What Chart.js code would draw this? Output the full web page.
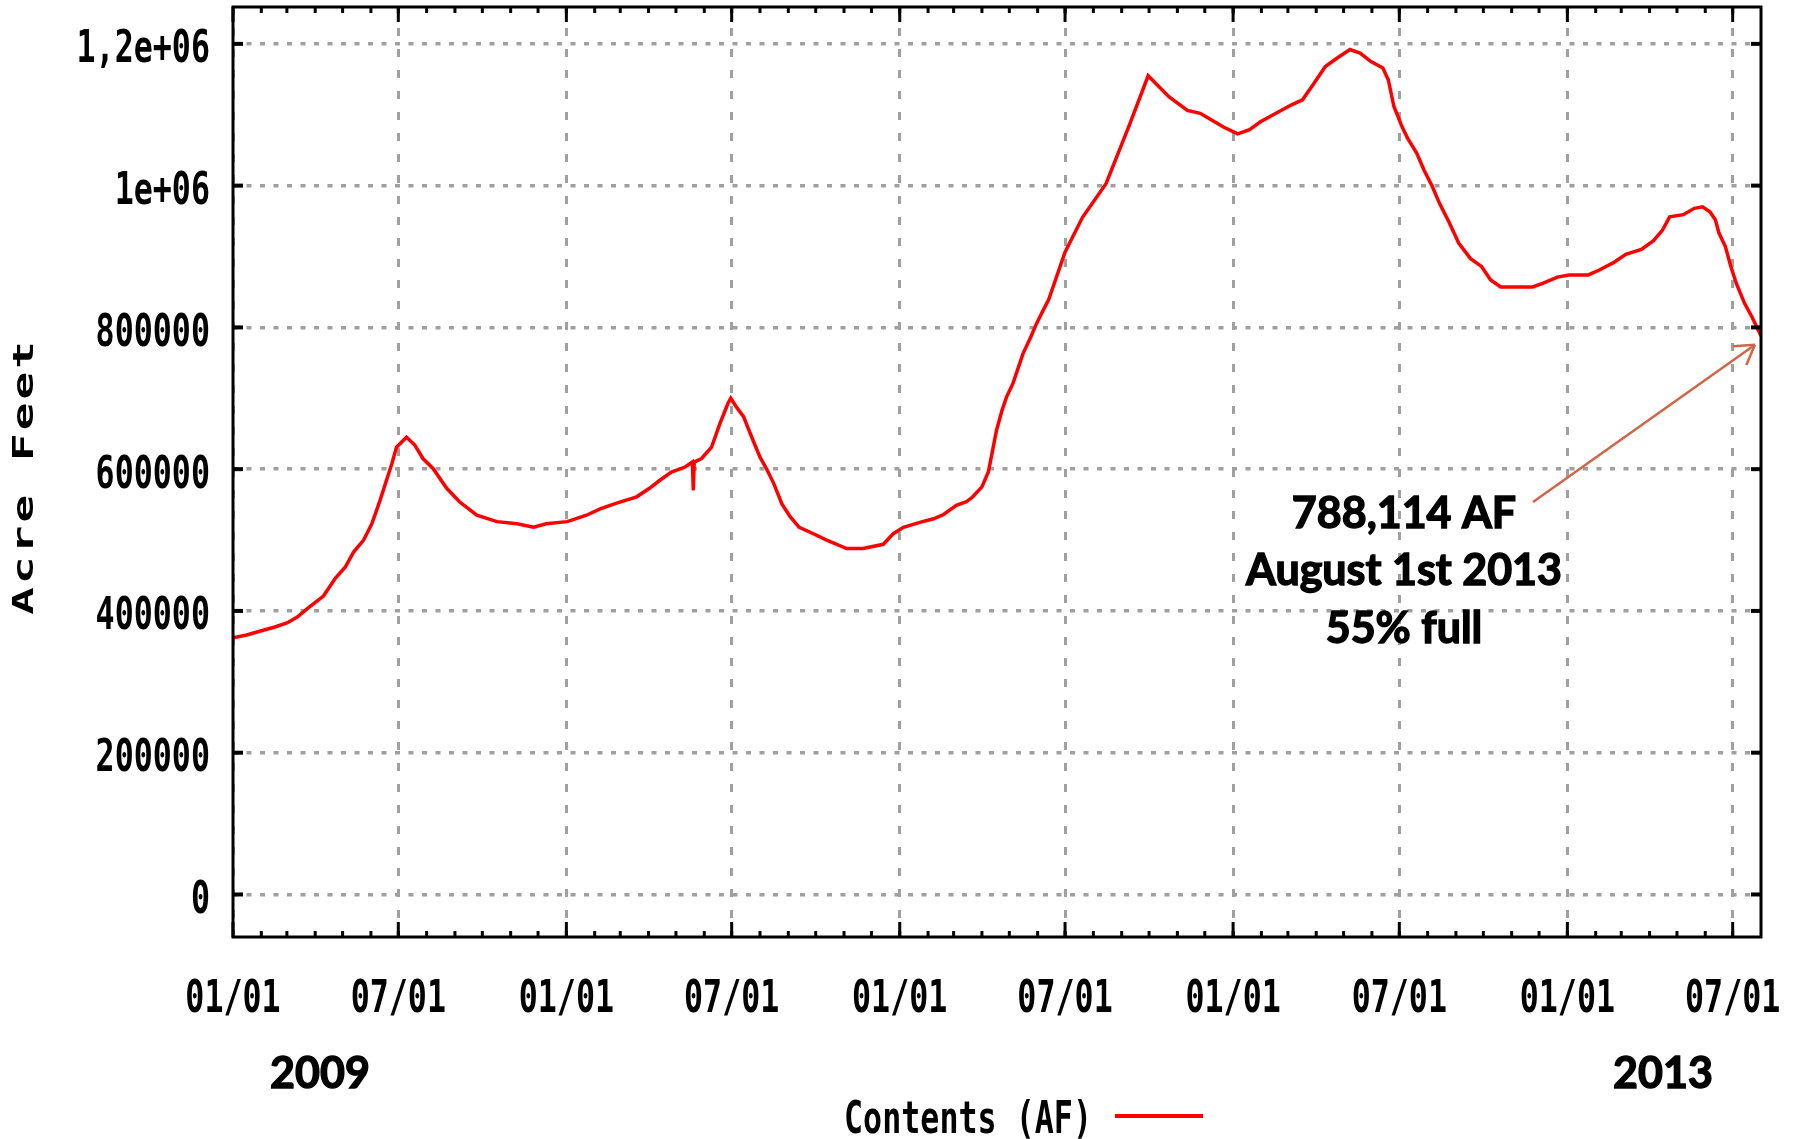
<!DOCTYPE html>
<html>
<head>
<meta charset="utf-8">
<script src="https://cdn.jsdelivr.net/npm/chart.js@4.4.1/dist/chart.umd.min.js"></script>
<style>
  html, body { margin: 0; padding: 0; background: #fff; }
</style>
</head>
<body>
<canvas id="storageChart" width="1797" height="1139"></canvas>
<script>
// Reservoir contents in acre feet
const dates = [
    '2009-01-01', '2009-01-16', '2009-02-01', '2009-02-15', '2009-03-01', '2009-03-12', '2009-03-23', '2009-03-30',
    '2009-04-10', '2009-04-23', '2009-05-04', '2009-05-13', '2009-05-24', '2009-06-02', '2009-06-11', '2009-06-18',
    '2009-06-24', '2009-06-29', '2009-07-10', '2009-07-19', '2009-07-28', '2009-08-08', '2009-08-23', '2009-09-06',
    '2009-09-25', '2009-10-17', '2009-11-08', '2009-11-26', '2009-12-10', '2010-01-02', '2010-01-23', '2010-02-07',
    '2010-02-25', '2010-03-19', '2010-04-02', '2010-04-13', '2010-04-26', '2010-05-11', '2010-05-19', '2010-05-20',
    '2010-05-21', '2010-05-29', '2010-06-09', '2010-06-18', '2010-06-27', '2010-06-30', '2010-07-06', '2010-07-14',
    '2010-07-23', '2010-08-01', '2010-08-08', '2010-08-16', '2010-08-25', '2010-09-03', '2010-09-13', '2010-09-25',
    '2010-10-13', '2010-11-04', '2010-11-22', '2010-12-14', '2010-12-25', '2011-01-05', '2011-01-23', '2011-02-07',
    '2011-02-18', '2011-03-04', '2011-03-15', '2011-03-22', '2011-04-01', '2011-04-08', '2011-04-12', '2011-04-17',
    '2011-04-23', '2011-04-28', '2011-05-05', '2011-05-11', '2011-05-16', '2011-05-24', '2011-05-31', '2011-06-07',
    '2011-06-13', '2011-07-01', '2011-07-20', '2011-08-15', '2011-09-09', '2011-09-30', '2011-10-23', '2011-11-12',
    '2011-11-26', '2011-12-08', '2011-12-21', '2012-01-06', '2012-01-19', '2012-01-31', '2012-02-17', '2012-03-05',
    '2012-03-17', '2012-03-30', '2012-04-11', '2012-04-24', '2012-05-08', '2012-05-19', '2012-05-31', '2012-06-13',
    '2012-06-19', '2012-06-25', '2012-07-04', '2012-07-10', '2012-07-20', '2012-07-28', '2012-08-06', '2012-08-14',
    '2012-08-25', '2012-09-04', '2012-09-17', '2012-09-29', '2012-10-09', '2012-10-20', '2012-11-24', '2012-12-05',
    '2012-12-21', '2013-01-03', '2013-01-24', '2013-02-05', '2013-02-20', '2013-03-06', '2013-03-23', '2013-04-05',
    '2013-04-15', '2013-04-23', '2013-05-08', '2013-05-20', '2013-05-29', '2013-06-06', '2013-06-12', '2013-06-16',
    '2013-06-23', '2013-06-29', '2013-07-05', '2013-07-14', '2013-07-22', '2013-08-01'
];
const contents = [
    362000, 366000, 372000, 377000, 383000, 391000, 403000, 410000,
    421000, 446000, 462000, 483000, 500000, 523000, 556000, 584000,
    608000, 631000, 645000, 634000, 615000, 601000, 573000, 554000,
    535000, 526000, 523000, 518000, 523000, 526000, 535000, 544000,
    552000, 561000, 573000, 584000, 596000, 603000, 610000, 570000,
    610000, 615000, 631000, 664000, 693000, 700000, 688000, 674000,
    645000, 617000, 601000, 580000, 551000, 533000, 518000, 511000,
    500000, 488000, 488000, 494000, 509000, 518000, 525000, 530000,
    536000, 549000, 554000, 561000, 575000, 596000, 622000, 655000,
    683000, 702000, 721000, 744000, 763000, 785000, 806000, 824000,
    839000, 906000, 955000, 1003000, 1084000, 1155000, 1125000, 1106000,
    1102000, 1093000, 1083000, 1073000, 1079000, 1090000, 1102000, 1114000,
    1121000, 1145000, 1168000, 1180000, 1192000, 1187000, 1175000, 1166000,
    1149000, 1112000, 1083000, 1067000, 1046000, 1022000, 999000, 975000,
    947000, 919000, 897000, 886000, 867000, 857000, 857000, 862000,
    871000, 874000, 874000, 881000, 891000, 903000, 910000, 922000,
    937000, 956000, 959000, 968000, 970000, 963000, 952000, 933000,
    914000, 886000, 862000, 834000, 815000, 788114
];

const xTickDates = ['2009-01-01', '2009-07-01', '2010-01-01', '2010-07-01', '2011-01-01',
    '2011-07-01', '2012-01-01', '2012-07-01', '2013-01-01', '2013-07-01'];
const xTickLabels = ['01/01', '07/01', '01/01', '07/01', '01/01', '07/01', '01/01', '07/01', '01/01', '07/01'];
const yTickValues = [0, 200000, 400000, 600000, 800000, 1000000, 1200000];
const yTickLabels = ['0', '200000', '400000', '600000', '800000', '1e+06', '1,2e+06'];
const yearLabels = ['2009', '2013'];
const noteLines = ['788,114 AF', 'August 1st 2013', '55% full'];

const START = Date.UTC(2009, 0, 1);
const dayOf = s => Math.round((Date.parse(s) - START) / 86400000);
const lastDay = dayOf('2013-08-01');

// gnuplot's bitmap font is tall and narrow, so a mono face gets squeezed
const termFont = "bold 44px 'DejaVu Sans Mono', monospace";
const termSqueeze = 0.72;
const noteFont = "bold 43px Lato, 'Open Sans', sans-serif";
const arrowColor = 'rgb(210, 100, 72)';

function squeezedText(ctx, txt, x, y, align, sx) {
    ctx.save();
    ctx.translate(x, y);
    ctx.scale(sx, 1);
    ctx.textAlign = align;
    ctx.fillText(txt, 0, 0);
    ctx.restore();
}

// gnuplot style frame: border, inward ticks, tick labels, legend and the note
const framePlugin = {
    id: 'gnuplotFrame',
    afterDraw(chart) {
        const { ctx, chartArea: a, scales: { x, y } } = chart;
        const line = (x1, y1, x2, y2) => {
            ctx.beginPath();
            ctx.moveTo(x1, y1);
            ctx.lineTo(x2, y2);
            ctx.stroke();
        };
        ctx.save();
        ctx.strokeStyle = '#000';
        ctx.fillStyle = '#000';

        // monthly minor ticks
        ctx.lineWidth = 3;
        for (let m = 1; ; m++) {
            const day = (Date.UTC(2009, m, 1) - START) / 86400000;
            if (day >= x.max) break;
            const px = x.getPixelForValue(day);
            line(px, a.bottom, px, a.bottom - 6);
            line(px, a.top, px, a.top + 6);
        }
        // major ticks
        x.ticks.forEach(t => {
            const px = x.getPixelForValue(t.value);
            line(px, a.bottom, px, a.bottom - 15);
            line(px, a.top, px, a.top + 15);
        });
        ctx.lineWidth = 4;
        y.ticks.forEach(t => {
            const py = y.getPixelForValue(t.value);
            line(a.left, py, a.left + 10, py);
            line(a.right - 10, py, a.right, py);
        });

        ctx.lineWidth = 3;
        ctx.strokeRect(a.left, a.top, a.right - a.left, a.bottom - a.top);

        // tick labels
        ctx.font = termFont;
        ctx.textBaseline = 'middle';
        x.ticks.forEach((t, i) => {
            squeezedText(ctx, xTickLabels[i], x.getPixelForValue(t.value), a.bottom + 64, 'center', termSqueeze);
        });
        y.ticks.forEach((t, i) => {
            squeezedText(ctx, yTickLabels[i], a.left - 23, y.getPixelForValue(t.value) + 7, 'right', termSqueeze);
        });

        // legend: text then sample line
        const ds = chart.data.datasets[0];
        squeezedText(ctx, ds.label, 1092, 1122, 'right', termSqueeze);
        ctx.save();
        ctx.strokeStyle = ds.borderColor;
        ctx.lineWidth = 4;
        line(1115, 1116, 1203, 1116);
        ctx.restore();

        // y axis title, wide letters
        ctx.save();
        ctx.translate(33, 478);
        ctx.rotate(-Math.PI / 2);
        ctx.scale(1.58, 1);
        ctx.font = "bold 29px 'DejaVu Sans Mono', monospace";
        ctx.letterSpacing = '2px';
        ctx.textAlign = 'center';
        ctx.textBaseline = 'alphabetic';
        ctx.fillText('Acre Feet', 1, 0);
        ctx.restore();

        // year labels and the note, heavier than plain bold
        ctx.font = noteFont;
        ctx.textAlign = 'center';
        ctx.textBaseline = 'middle';
        ctx.lineWidth = 1.4;
        const heavy = (txt, px, py) => {
            ctx.fillText(txt, px, py);
            ctx.strokeText(txt, px, py);
        };
        heavy(yearLabels[0], 320, 1074);
        heavy(yearLabels[1], 1663, 1074);
        noteLines.forEach((txt, i) => heavy(txt, 1404, 514 + i * 57.5));

        const tipX = x.getPixelForValue(lastDay) - 6;
        const tipY = y.getPixelForValue(contents[contents.length - 1]) + 9;
        const tailX = 1533, tailY = 502;
        const ang = Math.atan2(tipY - tailY, tipX - tailX);
        ctx.strokeStyle = arrowColor;
        ctx.lineWidth = 2.5;
        line(tailX, tailY, tipX, tipY);
        [0.55, -0.55].forEach(d => {
            line(tipX, tipY, tipX - 22 * Math.cos(ang + d), tipY - 22 * Math.sin(ang + d));
        });

        ctx.restore();
    }
};

new Chart(document.getElementById('storageChart'), {
    type: 'line',
    data: {
        datasets: [{
            label: 'Contents (AF)',
            data: dates.map((d, i) => ({ x: dayOf(d), y: contents[i] })),
            borderColor: '#ff0000',
            borderWidth: 3.5,
            pointRadius: 0,
            tension: 0,
            fill: false
        }]
    },
    options: {
        responsive: false,
        animation: false,
        layout: { padding: { top: 7, right: 36, left: 0, bottom: 0 } },
        plugins: { legend: { display: false }, tooltip: { enabled: false } },
        scales: {
            x: {
                type: 'linear',
                min: 0,
                max: lastDay,
                afterBuildTicks: s => { s.ticks = xTickDates.map(d => ({ value: dayOf(d) })); },
                afterFit: s => { s.height = 202; s.paddingLeft = 0; s.paddingRight = 0; },
                grid: { color: '#a0a0a0', lineWidth: 3, drawTicks: false },
                border: { display: false, dash: [8, 13] },
                ticks: { display: false }
            },
            y: {
                min: -60000,
                max: 1252000,
                afterBuildTicks: s => { s.ticks = yTickValues.map(v => ({ value: v })); },
                afterFit: s => { s.width = 233; s.paddingTop = 0; s.paddingBottom = 0; },
                grid: { color: '#a0a0a0', lineWidth: 3.5, drawTicks: false },
                border: { display: false, dash: [5, 8.5] },
                ticks: { display: false }
            }
        }
    },
    plugins: [framePlugin]
});
</script>
</body>
</html>
